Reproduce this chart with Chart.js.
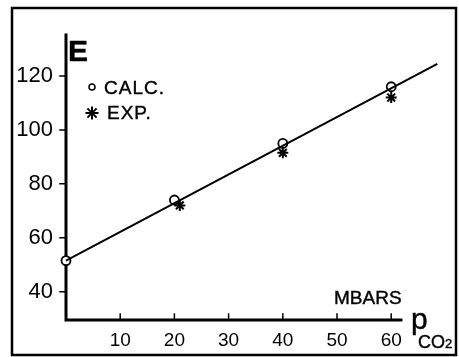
<!DOCTYPE html>
<html lang="en">
<head>
<meta charset="UTF-8">
<title>E vs pCO2</title>
<script src="https://cdn.jsdelivr.net/npm/chart.js"></script>
<style>
  body { margin: 0; background: #fff; }
  #wrap { position: relative; width: 459px; height: 357px; font-family: "Liberation Sans", Arial, sans-serif; }
  #wrap canvas { display: block; }
  .lbl { position: absolute; color: #000; white-space: nowrap; line-height: 1; -webkit-text-stroke: 0.4px #000; }
</style>
</head>
<body>
<div id="wrap">
  <canvas id="chart" width="459" height="357"></canvas>
  <div class="lbl" style="left:68px; top:36px; font-size:30px; font-weight:bold;">E</div>
  <div class="lbl" style="left:104px; top:78px; font-size:19px; letter-spacing:1px;">CALC.</div>
  <div class="lbl" style="left:107px; top:103px; font-size:19px; letter-spacing:1px;">EXP.</div>
  <div class="lbl" style="left:334px; top:288px; font-size:19px;">MBARS</div>
  <div class="lbl" style="left:411px; top:304px; font-size:30px;">p</div>
  <div class="lbl" style="left:418px; top:333px; font-size:18px;">CO<span style="font-size:13px;">2</span></div>
</div>
<script>
  // values
  const xTicks = [10, 20, 30, 40, 50, 60];
  const yTicks = [40, 60, 80, 100, 120];
  const calcX = [0, 20, 40, 60];
  const calcY = [51.5, 74, 95, 116];
  const expX = [21, 40, 60];
  const expY = [72, 91.5, 112];
  const fitX = [0, 68.5];
  const fitY = [51.5, 124.5];
  const xAxisEnd = 61.8;

  const pts = (xs, ys) => xs.map((x, i) => ({ x: x, y: ys[i] }));

  function star(ctx, x, y, r) {
    for (let a = 0; a < 4; a++) {
      const t = a * Math.PI / 4;
      ctx.moveTo(x - r * Math.cos(t), y - r * Math.sin(t));
      ctx.lineTo(x + r * Math.cos(t), y + r * Math.sin(t));
    }
  }

  const axesPlugin = {
    id: 'axes',
    beforeDatasetsDraw(chart) {
      const ctx = chart.ctx;
      const xs = chart.scales.x, ys = chart.scales.y;
      const x0 = xs.getPixelForValue(0);
      const y0 = ys.bottom;
      ctx.save();
      ctx.strokeStyle = '#000';
      ctx.lineCap = 'square';

      // outer frame
      ctx.lineWidth = 2.5;
      ctx.strokeRect(12, 8, 444, 347);

      // axis lines
      ctx.lineWidth = 3;
      ctx.beginPath();
      ctx.moveTo(x0, ys.top);
      ctx.lineTo(x0, y0);
      ctx.lineTo(xs.getPixelForValue(xAxisEnd), y0);
      ctx.stroke();

      // tick marks: y outward, x inward
      ctx.lineWidth = 1.5;
      ctx.beginPath();
      yTicks.forEach(v => {
        const p = ys.getPixelForValue(v);
        ctx.moveTo(x0 - 6, p);
        ctx.lineTo(x0, p);
      });
      xTicks.forEach(v => {
        const p = xs.getPixelForValue(v);
        ctx.moveTo(p, y0);
        ctx.lineTo(p, y0 - 6);
      });
      ctx.stroke();

      // legend markers
      ctx.lineWidth = 1.5;
      ctx.beginPath();
      ctx.arc(92, 87, 3, 0, Math.PI * 2);
      ctx.stroke();
      ctx.lineWidth = 2;
      ctx.beginPath();
      star(ctx, 92, 113, 5.5);
      ctx.stroke();
      ctx.restore();
    }
  };

  new Chart(document.getElementById('chart'), {
    type: 'scatter',
    data: {
      datasets: [
        {
          label: 'fit',
          data: pts(fitX, fitY),
          showLine: true,
          borderColor: '#000',
          borderWidth: 2,
          pointRadius: 0,
          clip: false
        },
        {
          label: 'CALC.',
          data: pts(calcX, calcY),
          pointStyle: 'circle',
          pointRadius: 4.5,
          backgroundColor: '#fff',
          borderColor: '#000',
          borderWidth: 1.8,
          clip: false
        },
        {
          label: 'EXP.',
          data: pts(expX, expY),
          pointStyle: 'star',
          pointRadius: 5.5,
          borderColor: '#000',
          borderWidth: 2,
          clip: false
        }
      ]
    },
    options: {
      responsive: false,
      animation: false,
      layout: { padding: { left: 0, top: 35, right: 19, bottom: 0 } },
      plugins: { legend: { display: false }, tooltip: { enabled: false } },
      scales: {
        x: {
          type: 'linear',
          min: 0,
          max: 69,
          afterBuildTicks: s => { s.ticks = xTicks.map(v => ({ value: v })); },
          afterFit: s => { s.height = 37; },
          grid: { display: false, drawTicks: false },
          border: { display: false },
          ticks: { color: '#000', padding: 9, font: { family: 'Liberation Sans', size: 19 }, maxRotation: 0 }
        },
        y: {
          min: 29.5,
          max: 135.2,
          afterBuildTicks: s => { s.ticks = yTicks.map(v => ({ value: v })); },
          afterFit: s => { s.width = 66; },
          grid: { display: false, drawTicks: false },
          border: { display: false },
          ticks: { color: '#000', padding: 13, font: { family: 'Liberation Sans', size: 22 } }
        }
      }
    },
    plugins: [axesPlugin]
  });
</script>
</body>
</html>
